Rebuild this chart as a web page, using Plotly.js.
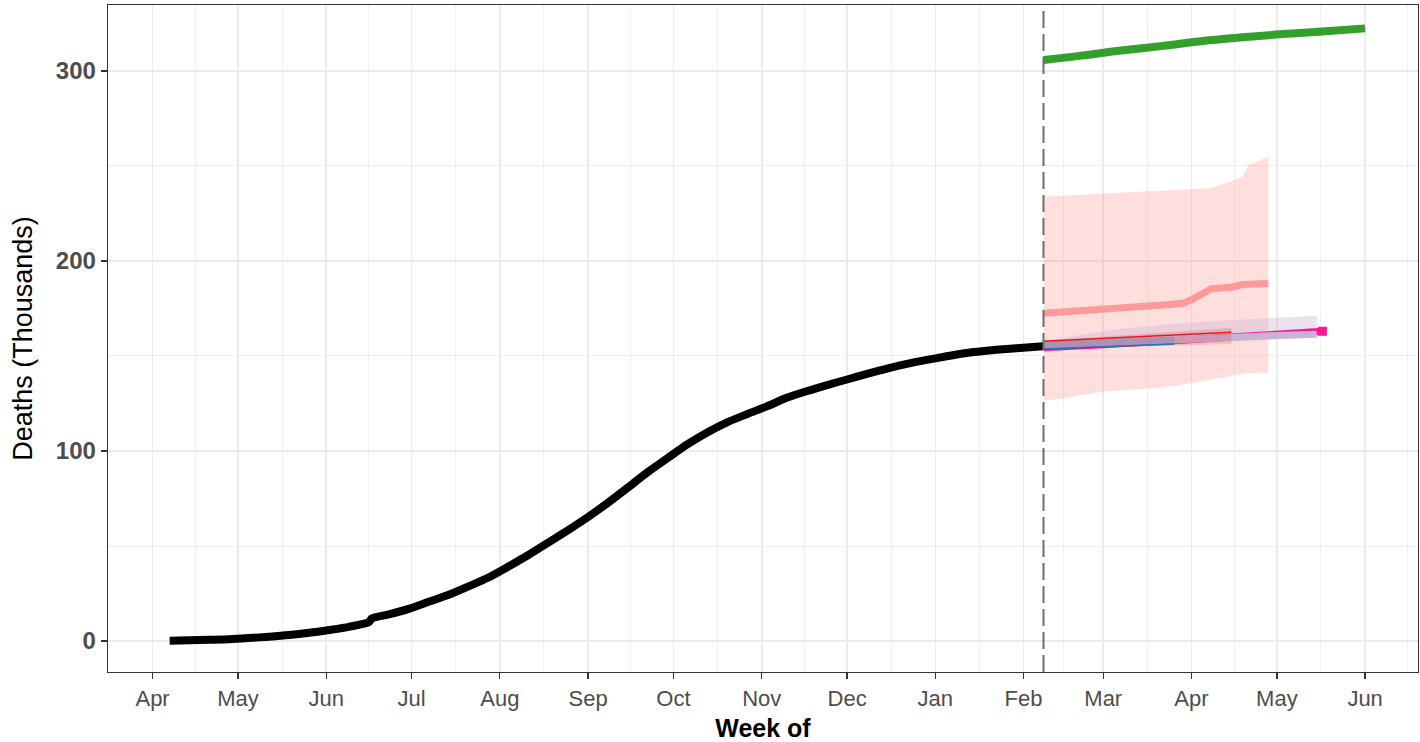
<!DOCTYPE html>
<html><head><meta charset="utf-8">
<script src="https://cdn.plot.ly/plotly-3.0.1.min.js"></script>
<style>html,body{margin:0;padding:0;background:#fff}#chart{width:1420px;height:742px}</style>
</head><body><div id="chart"></div>
<script>
// ---- Observed cumulative deaths (thousands) ----
const obsDates = ['2020-04-07','2020-04-14','2020-04-21','2020-04-28','2020-05-05','2020-05-12','2020-05-19','2020-05-26',
  '2020-06-02','2020-06-09','2020-06-16','2020-06-17','2020-06-23','2020-06-30','2020-07-07','2020-07-14','2020-07-21','2020-07-28',
  '2020-08-04','2020-08-11','2020-08-18','2020-08-25','2020-09-01','2020-09-08','2020-09-15','2020-09-22','2020-09-29',
  '2020-10-06','2020-10-13','2020-10-20','2020-10-27','2020-11-03','2020-11-10','2020-11-17','2020-11-24',
  '2020-12-01','2020-12-08','2020-12-15','2020-12-22','2020-12-29','2021-01-05','2021-01-12','2021-01-19','2021-01-26',
  '2021-02-02','2021-02-08'];
const obsDeaths = [0.15,0.38,0.64,0.94,1.57,2.29,3.16,4.34,
  5.82,7.47,9.92,11.90,14.01,16.89,20.64,24.31,28.73,33.43,
  39.20,45.26,51.80,58.39,65.29,72.78,80.78,88.94,96.32,
  103.57,109.86,115.20,119.50,123.61,128.12,131.58,134.70,
  137.62,140.57,143.36,145.81,147.92,149.85,151.53,152.72,153.72,
  154.49,155.08];

const forecastDate = '2021-02-08';

// ---- Green model ----
const greenDates = ['2021-02-08','2021-02-22','2021-03-08','2021-03-22','2021-04-05','2021-04-19','2021-05-03','2021-05-17','2021-06-01'];
const greenMid = [305.8,308.2,310.9,313.2,315.8,317.7,319.4,320.8,322.4];

// ---- Salmon model (with interval) ----
const salDates = ['2021-02-08','2021-02-15','2021-02-22','2021-03-01','2021-03-08','2021-03-15','2021-03-22','2021-03-29',
  '2021-04-01','2021-04-08','2021-04-15','2021-04-19','2021-04-21','2021-04-28'];
const salMid = [172.5,173.1,173.7,174.4,175.2,175.9,176.8,177.7,179.6,185.4,186.2,187.6,187.8,188.2];
const salLo  = [126.5,127.8,129.6,131.2,132.0,132.6,133.6,135.0,135.6,137.5,139.5,140.8,141.0,141.2];
const salHi  = [233.8,234.4,235.0,235.4,236.0,236.5,237.0,237.5,237.8,238.4,242.0,244.5,250.5,254.9];

// ---- Lavender model ----
const lavDates = ['2021-02-08','2021-02-22','2021-03-08','2021-03-22','2021-04-05','2021-04-19','2021-05-03','2021-05-15'];
const lavLo  = [153.2,154.1,155.0,155.9,156.8,157.8,158.8,159.8];
const lavHi  = [157.5,161.5,164.5,166.5,168.0,169.3,170.3,171.2];
const lavMid = [155.8,156.6,157.4,158.2,159.1,160.0,160.9,161.4];

// ---- Magenta model ----
const magDates = ['2021-02-08','2021-03-01','2021-03-22','2021-04-12','2021-05-03','2021-05-17'];
const magMid = [154.3,155.9,157.7,159.7,161.7,163.0];

// ---- Red model ----
const redDates = ['2021-02-08','2021-03-01','2021-03-22','2021-04-15'];
const redMid = [157.8,159.3,160.9,162.5];
const redLo  = [153.5,154.5,155.5,156.3];
const redHi  = [158.2,160.3,162.5,164.7];

// ---- Blue model ----
const blueDates = ['2021-02-08','2021-03-01','2021-03-26'];
const blueMid = [153.7,155.0,156.3];
const blueLo  = [153.2,154.4,155.8];
const blueHi  = [157.5,159.2,160.5];

// ---- Axis labels ----
const yTickVals = [0,100,200,300];
const xTitle = 'Week of';
const yTitle = 'Deaths (Thousands)';

function ribbon(dates, lo, hi, fill) {
  return {x: dates.concat(dates.slice().reverse()), y: hi.concat(lo.slice().reverse()),
    type:'scatter', mode:'lines', fill:'toself', fillcolor: fill, line:{width:0}, hoverinfo:'skip', showlegend:false};
}
function line(dates, vals, color, width, smooth) {
  const ln = {color: color, width: width};
  if (smooth) { ln.shape = 'spline'; ln.smoothing = smooth; }
  return {x: dates, y: vals, type:'scatter', mode:'lines', line: ln, showlegend:false};
}

// minor gridlines at midpoints between month starts
const minorVals = [];
for (let i = 0; i < 17; i++) {
  const a = Date.UTC(2020, 2 + i, 1), b = Date.UTC(2020, 3 + i, 1);
  minorVals.push(new Date((a + b) / 2).toISOString().replace('T',' ').slice(0,19));
}

const magEnd = {x:[magDates[magDates.length-1]], y:[magMid[magMid.length-1]], type:'scatter', mode:'markers',
  marker:{symbol:'square', size:9, color:'#FF1493'}, showlegend:false};

const data = [
  ribbon(salDates, salLo, salHi, 'rgba(251,154,153,0.32)'),
  ribbon(lavDates, lavLo, lavHi, 'rgba(202,178,214,0.38)'),
  line(magDates, magMid, '#FF1493', 7, 0.8),
  magEnd,
  line(lavDates, lavMid, '#CAB2D6', 7, 0.8),
  ribbon(redDates, redLo, redHi, 'rgba(227,26,28,0.17)'),
  ribbon(blueDates, blueLo, blueHi, 'rgba(31,120,180,0.2)'),
  line(redDates, redMid, '#E31A1C', 1.5),
  line(blueDates, blueMid, '#1F78B4', 1.5),
  line(salDates, salMid, '#FB9A99', 7),
  line(greenDates, greenMid, '#33A02C', 8, 1),
  line(obsDates, obsDeaths, '#000000', 8, 0.7)
];

const layout = {
  width:1420, height:742,
  margin:{l:108, r:2, t:5, b:70},
  paper_bgcolor:'#FFFFFF', plot_bgcolor:'#FFFFFF',
  showlegend:false,
  font:{family:'Liberation Sans, Arial, sans-serif'},
  xaxis:{
    type:'date', range:['2020-03-16 08:00','2021-06-19 14:00'],
    tick0:'2020-04-01', dtick:'M1', tickformat:'%b',
    showgrid:true, gridcolor:'#EBEBEB', gridwidth:1.6,
    minor:{tickvals:minorVals, showgrid:true, gridcolor:'#EBEBEB', gridwidth:0.8, ticks:''},
    ticks:'outside', ticklen:6, tickwidth:1.3, tickcolor:'#333333',
    showline:true, mirror:true, linecolor:'#333333', linewidth:1.3, zeroline:false,
    tickfont:{size:22, color:'#4D4D4D'},
    title:{text:xTitle, font:{size:25, color:'#000000', weight:'bold'}}
  },
  yaxis:{
    range:[-16.3,334.7], tickvals:yTickVals,
    showgrid:true, gridcolor:'#EBEBEB', gridwidth:1.6,
    minor:{dtick:50, tick0:0, showgrid:true, gridcolor:'#EBEBEB', gridwidth:0.8, ticks:''},
    ticks:'outside', ticklen:6, tickwidth:1.3, tickcolor:'#333333',
    showline:true, mirror:true, linecolor:'#333333', linewidth:1.3, zeroline:false,
    tickfont:{size:24, color:'#4D4D4D', weight:'bold'},
    automargin:false,
    title:{text:yTitle, font:{size:27, color:'#000000'}, standoff:15}
  },
  shapes:[{type:'line', xref:'x', yref:'paper', x0:forecastDate, x1:forecastDate, y0:0, y1:1,
    line:{color:'#6E6E6E', width:2, dash:'17px,6px'}}]
};

Plotly.newPlot('chart', data, layout, {displayModeBar:false, staticPlot:true});
</script></body></html>
